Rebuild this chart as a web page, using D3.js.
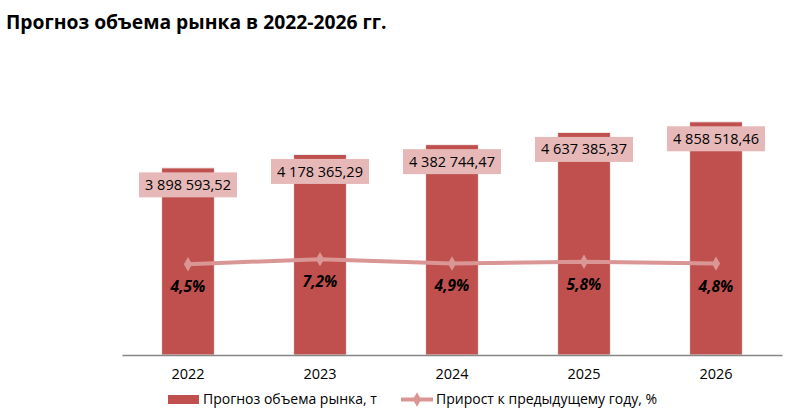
<!DOCTYPE html>
<html><head><meta charset="utf-8">
<script src="https://cdn.jsdelivr.net/npm/d3@7"></script>
<style>body{margin:0;background:#fff}svg{display:block}</style>
</head><body>
<svg id="c" width="792" height="415"></svg>
<script>
const years = ["2022","2023","2024","2025","2026"];
const volume = [3898593.52, 4178365.29, 4382744.47, 4637385.37, 4858518.46];
const volumeLabels = ["3 898 593,52","4 178 365,29","4 382 744,47","4 637 385,37","4 858 518,46"];
const growth = [0.045, 0.072, 0.049, 0.058, 0.048];
const growthLabels = ["4,5%","7,2%","4,9%","5,8%","4,8%"];
const title = "Прогноз объема рынка в 2022-2026 гг.";
const legendNames = ["Прогноз объема рынка, т","Прирост к предыдущему году, %"];

const svg = d3.select("#c");
const font = "'Open Sans', 'Noto Sans', sans-serif";
const barColor = "#c0504d", lineColor = "#d99694", labelBg = "#e6b9b8";

svg.append("text").attr("x",6).attr("y",29).attr("font-family",font)
  .attr("font-weight","bold").attr("font-size",19.3).attr("fill","#000").text(title);

const x = d3.scaleBand().domain(years).range([122,782]).paddingInner(0.6).paddingOuter(0.3);
const y = d3.scaleLinear().domain([0,6000000]).range([355,67]);
const y2 = d3.scaleLinear().domain([0,1]).range([272.5,87.5]);

// bars
svg.append("g").selectAll("rect").data(years).join("rect")
  .attr("x",d=>x(d)).attr("width",x.bandwidth())
  .attr("y",(d,i)=>y(volume[i])).attr("height",(d,i)=>y(0)-y(volume[i]))
  .attr("fill",barColor).attr("stroke","#f2f2f2").attr("stroke-width",1);

// axis
const ax = svg.append("g").attr("transform","translate(0,355)")
  .call(d3.axisBottom(x).tickSize(0).tickPadding(14));
ax.select(".domain").attr("stroke","#868686").attr("stroke-width",1.3);
ax.selectAll("text").attr("font-family",font).attr("font-size",14.5).attr("fill","#000");

// line
const cx = d=>x(d)+x.bandwidth()/2;
svg.append("path").datum(years)
  .attr("d", d3.line().x(cx).y((d,i)=>y2(growth[i])))
  .attr("fill","none").attr("stroke",lineColor).attr("stroke-width",4).attr("stroke-linejoin","round");
svg.append("g").selectAll("path").data(years).join("path")
  .attr("transform",(d,i)=>`translate(${cx(d)},${y2(growth[i])})`)
  .attr("d", d3.symbol().type(d3.symbolDiamond).size(60)).attr("fill",lineColor);

// growth labels
svg.append("g").selectAll("text").data(years).join("text")
  .attr("x",cx).attr("y",(d,i)=>y2(growth[i])+28)
  .attr("text-anchor","middle").attr("font-family",font).attr("font-size",15.5)
  .attr("font-weight","bold").attr("font-style","italic").attr("fill","#000")
  .text((d,i)=>growthLabels[i]);

// value labels
const lg = svg.append("g").selectAll("g").data(years).join("g")
  .attr("transform",(d,i)=>`translate(${cx(d)},${y(volume[i])+17})`);
lg.append("rect").attr("x",-49).attr("y",-12.5).attr("width",98).attr("height",25).attr("fill",labelBg);
lg.append("text").attr("text-anchor","middle").attr("dy","0.35em")
  .attr("font-family",font).attr("font-size",14.5).attr("fill","#000")
  .text((d,i)=>volumeLabels[i]);

// legend
const leg = svg.append("g");
leg.append("rect").attr("x",168).attr("y",395).attr("width",31).attr("height",9).attr("fill",barColor);
leg.append("text").attr("x",203).attr("y",399.5).attr("dy","0.35em").attr("font-family",font)
  .attr("font-size",14).attr("fill","#000").text(legendNames[0]);
leg.append("line").attr("x1",401).attr("x2",433).attr("y1",399.5).attr("y2",399.5)
  .attr("stroke",lineColor).attr("stroke-width",4);
leg.append("path").attr("transform","translate(417,399.5)")
  .attr("d", d3.symbol().type(d3.symbolDiamond).size(60)).attr("fill",lineColor);
leg.append("text").attr("x",436).attr("y",399.5).attr("dy","0.35em").attr("font-family",font)
  .attr("font-size",14).attr("fill","#000").text(legendNames[1]);
</script>
</body></html>
